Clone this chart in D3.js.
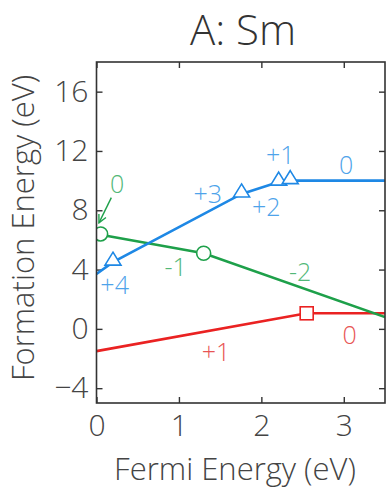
<!DOCTYPE html>
<html>
<head>
<meta charset="utf-8">
<script src="https://cdn.jsdelivr.net/npm/d3@7"></script>
<style>
  body { margin: 0; background: #fff; }
  text { font-family: "Open Sans", "Noto Sans", sans-serif; font-weight: 300; }
</style>
</head>
<body>
<div id="chart-area"></div>
<script>
const xTicks = [0, 1, 2, 3];
const yTicks = [-4, 0, 4, 8, 12, 16];

const blueX = [0, 0.2, 1.76, 2.21, 2.35, 3.5];
const blueY = [3.7, 4.5, 9.1, 9.9, 10.0, 10.0];
const blueMarks = [1, 2, 3, 4];

const greenX = [0, 1.3, 3.5];
const greenY = [6.4, 5.1, 0.8];
const greenMarkX = [0.05, 1.3];
const greenMarkY = [6.4, 5.1];

const redX = [0, 2.55, 3.5];
const redY = [-1.5, 1.05, 1.05];
const redMarks = [1];

const labelText = ["0", "-1", "-2", "+4", "+3", "+2", "+1", "0", "+1", "0"];
const labelX = [0.25, 0.96, 2.47, 0.22, 1.35, 2.06, 2.23, 3.03, 1.45, 3.07];
const labelY = [9.8, 4.17, 3.86, 2.96, 9.1, 8.22, 11.73, 11.05, -1.56, -0.41];
const labelSeries = ["g", "g", "g", "b", "b", "b", "b", "b", "r", "r"];

const arrowFrom = [0.18, 8.85];
const arrowTo = [0.03, 7.15];

const drawChart = () => {
  const chartSize = { width: 387, height: 494 };
  const margin = { left: 96.5, right: 2, top: 62, bottom: 91 };
  const width = chartSize.width - (margin.left + margin.right);
  const height = chartSize.height - (margin.top + margin.bottom);

  const colors = {
    b: { line: "#1e88e5", text: "#4ea3ea" },
    g: { line: "#1ea04a", text: "#52b878" },
    r: { line: "#ea2222", text: "#e85454" }
  };

  const x = d3.scaleLinear().domain([0, 3.5]).range([0, width]);
  const y = d3.scaleLinear().domain([-5, 18]).range([height, 0]);

  const svg = d3.select("#chart-area")
    .append("svg")
    .attr("width", chartSize.width)
    .attr("height", chartSize.height);

  svg.append("defs").append("marker")
    .attr("id", "arrow")
    .attr("viewBox", "0 0 10 10")
    .attr("refX", 9).attr("refY", 5)
    .attr("markerWidth", 7).attr("markerHeight", 7)
    .attr("orient", "auto")
    .append("path")
    .attr("d", "M1,1 L9,5 L1,9")
    .attr("fill", "none")
    .attr("stroke", colors.g.line)
    .attr("stroke-width", 1.4);

  svg.append("clipPath").attr("id", "clip")
    .append("rect").attr("width", width).attr("height", height);

  const g = svg.append("g")
    .attr("transform", `translate(${margin.left}, ${margin.top})`);

  svg.append("text")
    .attr("x", 243)
    .attr("y", 45)
    .attr("text-anchor", "middle")
    .attr("font-size", 42)
    .attr("fill", "#333")
    .text("A: Sm");

  const styleAxis = sel => {
    sel.select(".domain").remove();
    sel.selectAll("line").attr("stroke", "#333").attr("stroke-width", 1.4);
    sel.selectAll("text")
      .attr("font-size", 30)
      .attr("fill", "#444")
      .style("font-family", "'Open Sans', sans-serif")
      .style("font-weight", 300);
  };

  g.append("g")
    .attr("transform", `translate(0, ${height})`)
    .call(d3.axisBottom(x).tickValues(xTicks).tickFormat(d3.format("d"))
      .tickSizeInner(-6).tickSizeOuter(0).tickPadding(12))
    .call(styleAxis);
  g.append("g")
    .call(d3.axisTop(x).tickValues(xTicks).tickSizeInner(-6).tickSizeOuter(0).tickFormat(""))
    .call(styleAxis);
  g.append("g")
    .call(d3.axisLeft(y).tickValues(yTicks).tickSizeInner(-6).tickSizeOuter(0).tickPadding(8))
    .call(styleAxis);
  g.append("g")
    .attr("transform", `translate(${width}, 0)`)
    .call(d3.axisRight(y).tickValues(yTicks).tickSizeInner(-6).tickSizeOuter(0).tickFormat(""))
    .call(styleAxis);

  g.append("text")
    .attr("x", 235 - margin.left)
    .attr("y", 480 - margin.top)
    .attr("text-anchor", "middle")
    .attr("font-size", 31)
    .attr("fill", "#444")
    .text("Fermi Energy (eV)");

  g.append("text")
    .attr("transform", `translate(${34 - margin.left}, ${228 - margin.top}) rotate(-90)`)
    .attr("text-anchor", "middle")
    .attr("font-size", 31)
    .attr("fill", "#444")
    .text("Formation Energy (eV)");

  const plot = g.append("g").attr("clip-path", "url(#clip)");
  const line = d3.line().x(d => x(d[0])).y(d => y(d[1]));

  const series = [
    { key: "r", pts: d3.zip(redX, redY) },
    { key: "g", pts: d3.zip(greenX, greenY) },
    { key: "b", pts: d3.zip(blueX, blueY) }
  ];

  plot.selectAll(".series")
    .data(series)
    .enter()
    .append("path")
    .attr("d", s => line(s.pts))
    .attr("fill", "none")
    .attr("stroke", s => colors[s.key].line)
    .attr("stroke-width", 2.6);

  plot.selectAll(".sq")
    .data(redMarks)
    .enter()
    .append("rect")
    .attr("x", i => x(redX[i]) - 6.5)
    .attr("y", i => y(redY[i]) - 6.5)
    .attr("width", 13)
    .attr("height", 13)
    .attr("fill", "#fff")
    .attr("stroke", colors.r.line)
    .attr("stroke-width", 1.6);

  plot.selectAll(".circ")
    .data(greenMarkX)
    .enter()
    .append("circle")
    .attr("cx", (d, i) => x(d))
    .attr("cy", (d, i) => y(greenMarkY[i]))
    .attr("r", 7)
    .attr("fill", "#fff")
    .attr("stroke", colors.g.line)
    .attr("stroke-width", 1.6);

  plot.selectAll(".tri")
    .data(blueMarks)
    .enter()
    .append("path")
    .attr("transform", i => `translate(${x(blueX[i])}, ${y(blueY[i])})`)
    .attr("d", "M0,-10 L8,3 L-8,3 Z")
    .attr("fill", "#fff")
    .attr("stroke", colors.b.line)
    .attr("stroke-width", 1.6);

  g.append("line")
    .attr("x1", x(arrowFrom[0])).attr("y1", y(arrowFrom[1]))
    .attr("x2", x(arrowTo[0])).attr("y2", y(arrowTo[1]))
    .attr("stroke", colors.g.line)
    .attr("stroke-width", 1.4)
    .attr("marker-end", "url(#arrow)");

  g.selectAll(".lbl")
    .data(labelText)
    .enter()
    .append("text")
    .attr("x", (d, i) => x(labelX[i]))
    .attr("y", (d, i) => y(labelY[i]))
    .attr("dy", "0.36em")
    .attr("text-anchor", "middle")
    .attr("font-size", 25)
    .attr("fill", (d, i) => colors[labelSeries[i]].text)
    .text(d => d);

  g.append("rect")
    .attr("width", width)
    .attr("height", height)
    .attr("fill", "none")
    .attr("stroke", "#333")
    .attr("stroke-width", 1.6);
};

window.onload = drawChart;
</script>
</body>
</html>
